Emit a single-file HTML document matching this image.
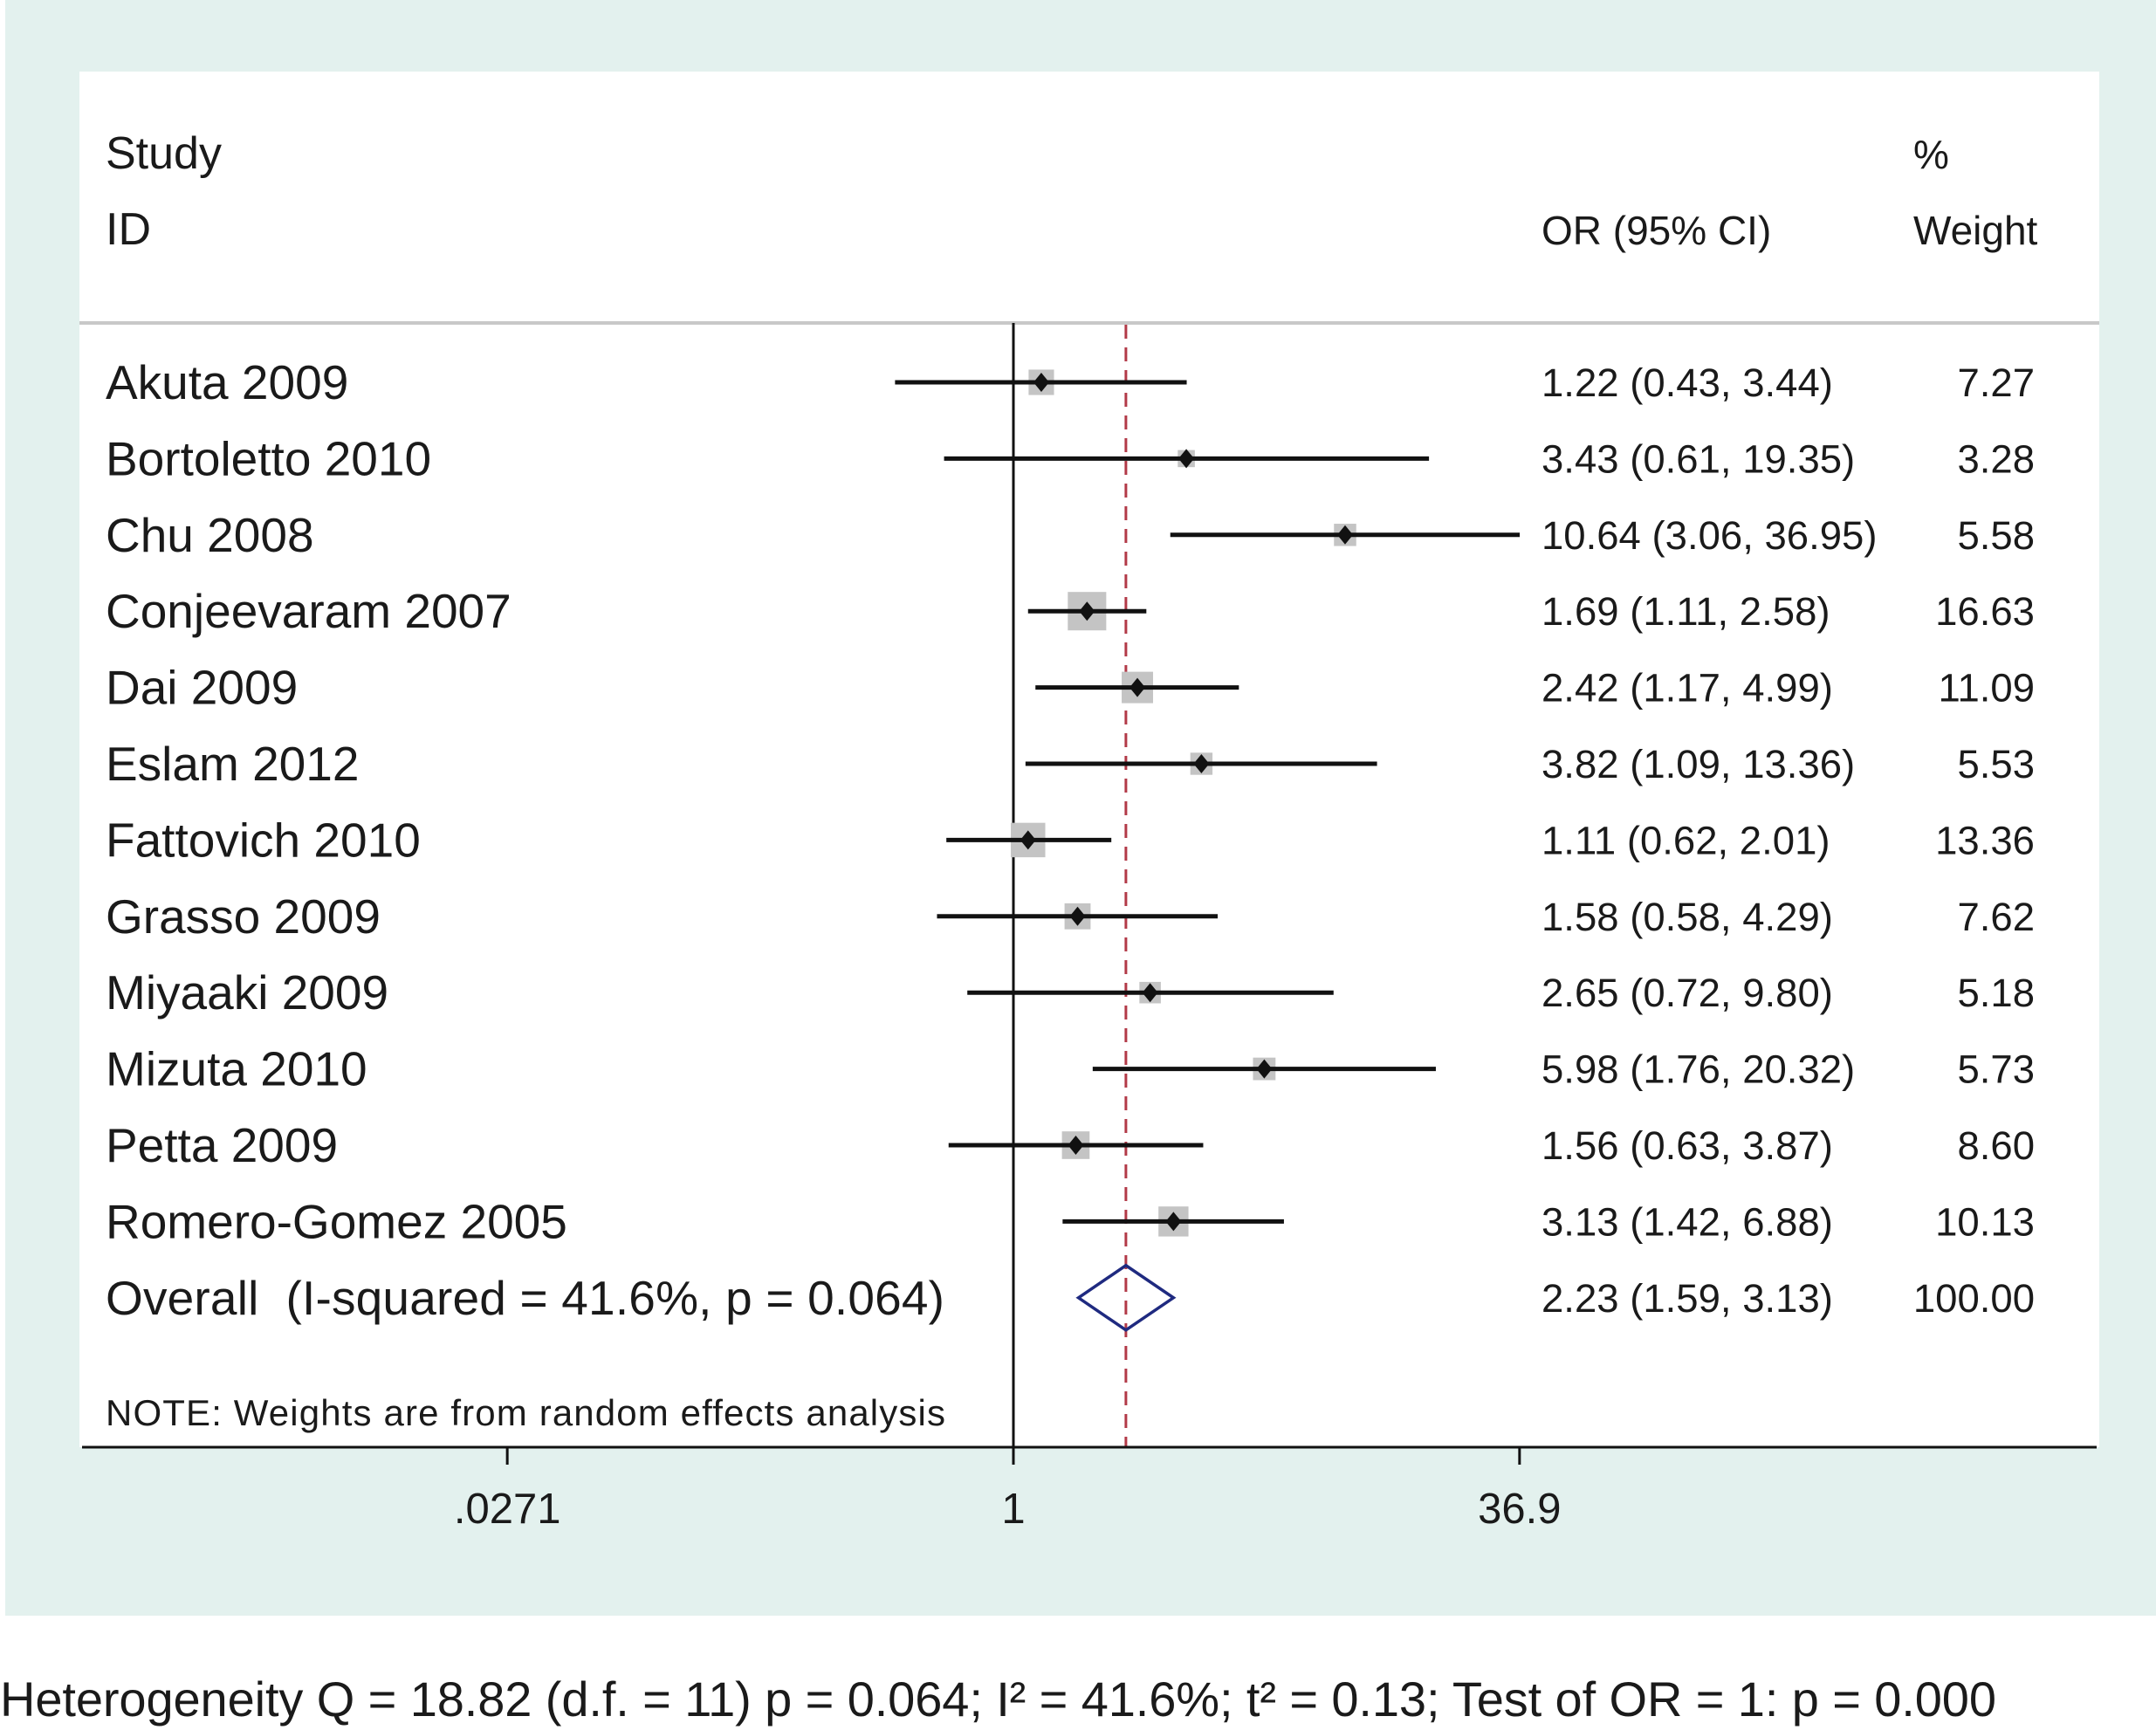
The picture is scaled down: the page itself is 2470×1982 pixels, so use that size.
<!DOCTYPE html>
<html><head><meta charset="utf-8"><style>
html,body{margin:0;padding:0;background:#fff}
svg{display:block;font-family:"Liberation Sans",Arial,sans-serif}
text{white-space:pre}
</style></head><body>
<svg width="2470" height="1982" viewBox="0 0 2470 1982">
<rect x="6" y="0" width="2464" height="1851" fill="#e3f1ee"/>
<rect x="91" y="82" width="2314" height="1576" fill="#ffffff"/>
<line x1="91" y1="370" x2="2405" y2="370" stroke="#c8c8c8" stroke-width="4"/>
<g font-size="52" fill="#1a1a1a">
<text x="121" y="193">Study</text>
<text x="121" y="280">ID</text>
<text x="1766" y="280" font-size="46">OR (95% CI)</text>
<text x="2192" y="193" font-size="46">%</text>
<text x="2192" y="280" font-size="46">Weight</text>
</g>
<g id="marks"></g>
<text x="121" y="1633" font-size="42" fill="#1a1a1a" textLength="962">NOTE: Weights are from random effects analysis</text>
<text x="0" y="1966" font-size="56" fill="#1a1a1a" textLength="2287">Heterogeneity Q = 18.82 (d.f. = 11) p = 0.064; I² = 41.6%; t² = 0.13; Test of OR = 1: p = 0.000</text>
</svg>
<script>
const studies=["Akuta 2009","Bortoletto 2010","Chu 2008","Conjeevaram 2007","Dai 2009","Eslam 2012","Fattovich 2010","Grasso 2009","Miyaaki 2009","Mizuta 2010","Petta 2009","Romero-Gomez 2005"];
const orVals=[1.22,3.43,10.64,1.69,2.42,3.82,1.11,1.58,2.65,5.98,1.56,3.13];
const lowVals=[0.43,0.61,3.06,1.11,1.17,1.09,0.62,0.58,0.72,1.76,0.63,1.42];
const highVals=[3.44,19.35,36.95,2.58,4.99,13.36,2.01,4.29,9.80,20.32,3.87,6.88];
const weights=[7.27,3.28,5.58,16.63,11.09,5.53,13.36,7.62,5.18,5.73,8.60,10.13];
const overall=[2.23,1.59,3.13];
const overallWeight="100.00";
const overallLabel="Overall  (I-squared = 41.6%, p = 0.064)";
const tickVals=[0.0271,1,36.9];
const tickLabels=[".0271","1","36.9"];

const NS="http://www.w3.org/2000/svg";
const g=document.getElementById('marks');
const X=v=>1161+160.7*Math.log(v);
const Y=i=>438+87.4*i;
function mk(t,a,p){const e=document.createElementNS(NS,t);for(const k in a)e.setAttribute(k,a[k]);(p||g).appendChild(e);return e;}
function txt(s,x,y,size,anchor){const e=mk('text',{x:x,y:y,'font-size':size,fill:'#1a1a1a','text-anchor':anchor||'start'});e.textContent=s;return e;}

let e;
e=mk('line',{x1:X(1),y1:370,x2:X(1),y2:1658,stroke:'#111',"stroke-width":3});


e=mk('line',{x1:X(overall[0]),y1:372,x2:X(overall[0]),y2:1658,stroke:'#b23a48',"stroke-width":3,"stroke-dasharray":"16 10"});



studies.forEach((s,i)=>{
  const y=Y(i);
  let t=txt(s,121,y+19,55);
  
  
  t=txt(orVals[i].toFixed(2)+" ("+lowVals[i].toFixed(2)+", "+highVals[i].toFixed(2)+")",1766,y+16,45.5);
  
  
  t=txt(weights[i].toFixed(2),2331,y+16,45.5,'end');
  
  
  const side=10.8*Math.sqrt(weights[i]);
  const b=mk('rect',{x:X(orVals[i])-side/2,y:y-side/2,width:side,height:side,fill:'#c4c4c4'});
  
  
  const l=mk('line',{x1:X(lowVals[i]),y1:y,x2:X(highVals[i]),y2:y,stroke:'#111',"stroke-width":5});
  
  
  const cx=X(orVals[i]);
  const d=mk('polygon',{points:`${cx-9},${y} ${cx},${y-11} ${cx+9},${y} ${cx},${y+11}`,fill:'#111'});
  
  
});
const oy=Y(12);
let t=txt(overallLabel,121,oy+19,55);
t.setAttribute('textLength','961');


t=txt(overall[0].toFixed(2)+" ("+overall[1].toFixed(2)+", "+overall[2].toFixed(2)+")",1766,oy+16,45.5);


t=txt(overallWeight,2331,oy+16,45.5,'end');


const dm=mk('polygon',{points:`${X(overall[1])},${oy} ${X(overall[0])},${oy-37} ${X(overall[2])},${oy} ${X(overall[0])},${oy+37}`,fill:'none',stroke:'#1f2a80',"stroke-width":3.5});



const ax=mk('line',{x1:94,y1:1658,x2:2402,y2:1658,stroke:'#111',"stroke-width":3});


tickVals.forEach((v,i)=>{
  const tk=mk('line',{x1:X(v),y1:1658,x2:X(v),y2:1678,stroke:'#111',"stroke-width":3});
  
  
  const tl=txt(tickLabels[i],X(v),1745,49,'middle');
  
  
});
</script>
</body></html>
